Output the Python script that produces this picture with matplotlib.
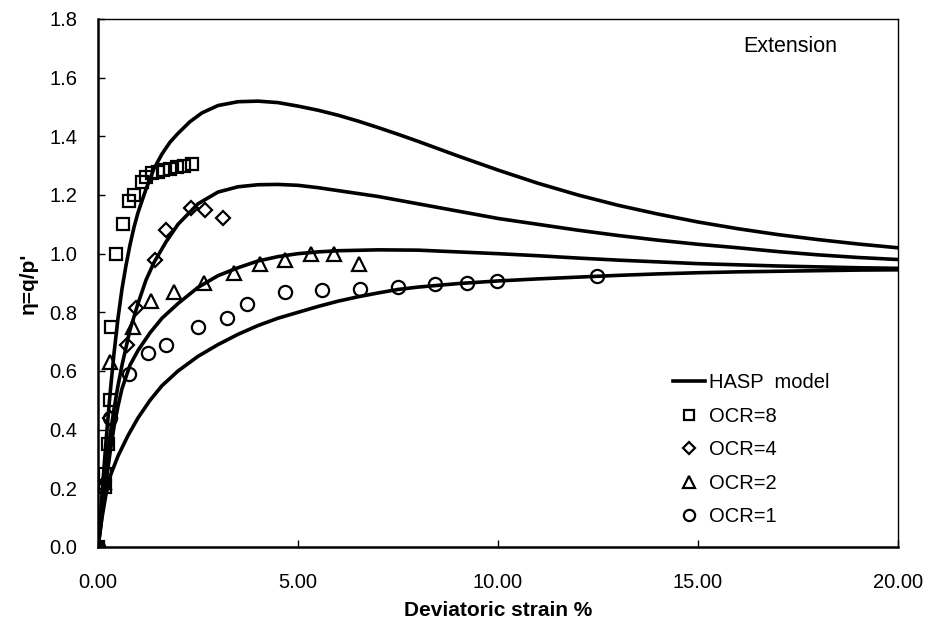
import matplotlib
matplotlib.use("Agg")
import matplotlib.pyplot as plt
from matplotlib.ticker import FixedLocator, FormatStrFormatter

plt.rcParams['font.family'] = ['Liberation Sans', 'DejaVu Sans']

# ---- data ----
# HASP model curves
m8_x = [0, 0.05, 0.1, 0.2, 0.3, 0.4, 0.5, 0.6, 0.7, 0.8, 0.9, 1.0, 1.2, 1.4, 1.6, 1.8, 2.0, 2.3, 2.6, 3.0, 3.5, 4.0, 4.5, 5.0, 5.5, 6.0, 6.5, 7.0, 7.5, 8.0, 9.0, 10, 11, 12, 13, 14, 15, 16, 17, 18, 19, 20]
m8_y = [0, 0.08, 0.18, 0.36, 0.52, 0.66, 0.78, 0.88, 0.96, 1.03, 1.09, 1.14, 1.22, 1.29, 1.34, 1.38, 1.41, 1.45, 1.48, 1.505, 1.518, 1.52, 1.515, 1.503, 1.489, 1.472, 1.452, 1.43, 1.407, 1.383, 1.333, 1.285, 1.24, 1.20, 1.165, 1.135, 1.108, 1.085, 1.065, 1.048, 1.033, 1.02]

m4_x = [0, 0.05, 0.1, 0.2, 0.3, 0.4, 0.5, 0.6, 0.7, 0.8, 1.0, 1.2, 1.4, 1.7, 2.0, 2.5, 3.0, 3.5, 4.0, 4.5, 5.0, 5.5, 6, 7, 8, 9, 10, 11, 12, 13, 14, 15, 16, 17, 18, 19, 20]
m4_y = [0, 0.06, 0.13, 0.27, 0.38, 0.47, 0.55, 0.62, 0.68, 0.74, 0.83, 0.91, 0.97, 1.04, 1.10, 1.17, 1.21, 1.228, 1.235, 1.236, 1.233, 1.225, 1.215, 1.195, 1.17, 1.145, 1.12, 1.10, 1.08, 1.062, 1.046, 1.032, 1.02, 1.007, 0.996, 0.987, 0.98]

m2_x = [0, 0.05, 0.1, 0.2, 0.3, 0.4, 0.5, 0.6, 0.8, 1.0, 1.3, 1.6, 2.0, 2.5, 3.0, 3.5, 4.0, 4.5, 5.0, 5.5, 6.0, 7.0, 8.0, 9.0, 10, 11, 12, 13, 14, 15, 16, 17, 18, 19, 20]
m2_y = [0, 0.05, 0.11, 0.22, 0.32, 0.41, 0.48, 0.54, 0.62, 0.67, 0.73, 0.78, 0.83, 0.885, 0.925, 0.952, 0.975, 0.99, 1.0, 1.006, 1.01, 1.013, 1.012, 1.006, 1.0, 0.993, 0.985, 0.978, 0.972, 0.966, 0.962, 0.958, 0.955, 0.952, 0.95]

m1_x = [0, 0.05, 0.1, 0.2, 0.3, 0.5, 0.75, 1.0, 1.3, 1.6, 2.0, 2.5, 3.0, 3.5, 4.0, 4.5, 5.0, 5.5, 6.0, 6.5, 7.0, 7.5, 8.0, 9.0, 10, 11, 12, 13, 14, 15, 16, 17, 18, 19, 20]
m1_y = [0, 0.05, 0.10, 0.18, 0.24, 0.31, 0.38, 0.44, 0.50, 0.55, 0.60, 0.65, 0.69, 0.725, 0.755, 0.78, 0.80, 0.82, 0.838, 0.853, 0.866, 0.878, 0.886, 0.898, 0.907, 0.914, 0.92, 0.926, 0.931, 0.935, 0.938, 0.94, 0.942, 0.944, 0.945]

# Test data
ocr8_x = [0, 0.17, 0.18, 0.24, 0.30, 0.32, 0.45, 0.62, 0.78, 0.90, 1.09, 1.19, 1.34, 1.49, 1.63, 1.80, 1.97, 2.15, 2.34]
ocr8_y = [0, 0.205, 0.25, 0.35, 0.50, 0.75, 1.00, 1.10, 1.18, 1.20, 1.245, 1.26, 1.275, 1.28, 1.285, 1.29, 1.295, 1.30, 1.305]

ocr4_x = [0, 0.12, 0.30, 0.73, 0.96, 1.43, 1.70, 2.32, 2.68, 3.13]
ocr4_y = [0, 0.20, 0.44, 0.69, 0.815, 0.98, 1.08, 1.155, 1.15, 1.12]

ocr2_x = [0, 0.15, 0.30, 0.87, 1.33, 1.90, 2.66, 3.40, 4.05, 4.68, 5.33, 5.91, 6.53]
ocr2_y = [0, 0.22, 0.63, 0.75, 0.84, 0.87, 0.90, 0.935, 0.965, 0.98, 1.00, 1.00, 0.965]

ocr1_x = [0, 0.30, 0.78, 1.25, 1.70, 2.51, 3.22, 3.73, 4.68, 5.61, 6.55, 7.50, 8.43, 9.22, 9.97, 12.48]
ocr1_y = [0, 0.44, 0.59, 0.66, 0.69, 0.75, 0.78, 0.83, 0.87, 0.875, 0.88, 0.887, 0.895, 0.90, 0.907, 0.925]

x_ticks = [0, 5, 10, 15, 20]
y_ticks = [0.0, 0.2, 0.4, 0.6, 0.8, 1.0, 1.2, 1.4, 1.6, 1.8]

# ---- figure ----
fig = plt.figure(figsize=(9.29, 6.37), dpi=100)
ax = fig.add_axes([98/929, 1 - 547/637, 800/929, 528/637])

lw = 2.6
ax.plot(m8_x, m8_y, color='black', lw=lw, label='HASP  model', zorder=3, solid_joinstyle='round')
ax.plot(m4_x, m4_y, color='black', lw=lw, zorder=3, solid_joinstyle='round')
ax.plot(m2_x, m2_y, color='black', lw=lw, zorder=3, solid_joinstyle='round')
ax.plot(m1_x, m1_y, color='black', lw=lw, zorder=3, solid_joinstyle='round')

mk = dict(linestyle='none', markerfacecolor='none', markeredgecolor='black', markeredgewidth=1.6, zorder=4)
ax.plot(ocr8_x, ocr8_y, marker='s', markersize=9, label='OCR=8', **mk)
ax.plot(ocr4_x, ocr4_y, marker='D', markersize=7, label='OCR=4', **mk)
ax.plot(ocr2_x, ocr2_y, marker='^', markersize=9.5, label='OCR=2', **mk)
ax.plot(ocr1_x, ocr1_y, marker='o', markersize=9.5, label='OCR=1', **mk)

ax.set_xlim(0, 20)
ax.set_ylim(0, 1.8)
ax.xaxis.set_major_locator(FixedLocator(x_ticks))
ax.yaxis.set_major_locator(FixedLocator(y_ticks))
ax.xaxis.set_major_formatter(FormatStrFormatter('%.2f'))
ax.yaxis.set_major_formatter(FormatStrFormatter('%.1f'))
ax.tick_params(direction='in', length=5, width=1, labelsize=14.5, colors='black')
ax.tick_params(axis='x', pad=19)
ax.tick_params(axis='y', pad=15)

for s in ['left', 'bottom']:
    ax.spines[s].set_linewidth(1.8)
for s in ['top', 'right']:
    ax.spines[s].set_linewidth(1.0)

ax.set_xlabel('Deviatoric strain %', fontsize=15, fontweight='bold', labelpad=6)
ax.set_ylabel("η=q/p'", fontsize=15, fontweight='bold', labelpad=8)

ax.text(0.865, 0.947, 'Extension', transform=ax.transAxes, ha='center', va='center', fontsize=15.5)

leg = ax.legend(loc='lower right', bbox_to_anchor=(0.9375, 0.005), frameon=False, fontsize=14.5,
                handlelength=1.6, handletextpad=0.2, labelspacing=0.72, markerscale=0.85)

fig.savefig('out.png', dpi=100)
